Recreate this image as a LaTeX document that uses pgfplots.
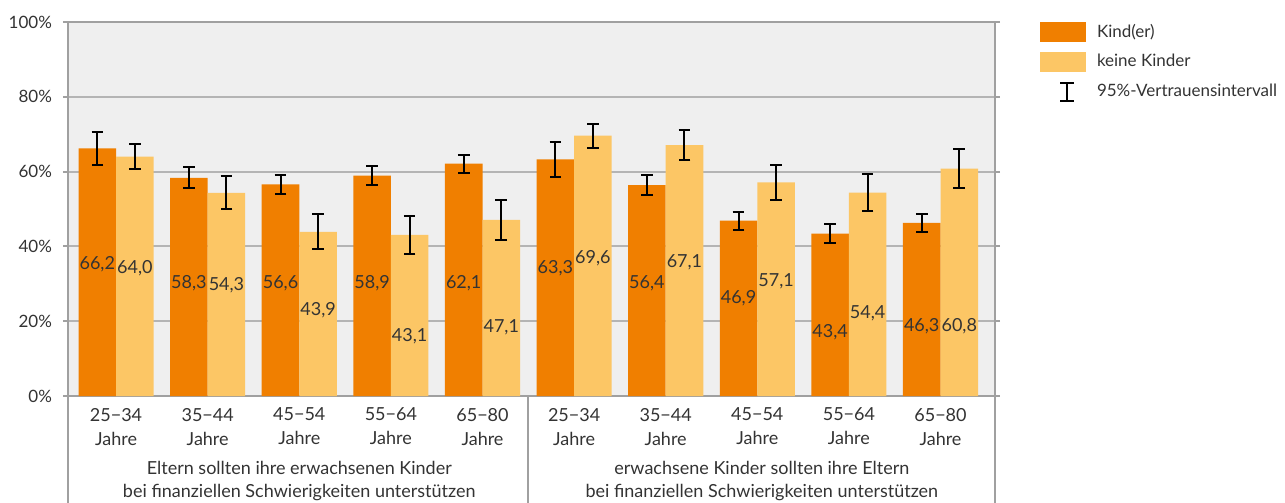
\documentclass[border=0pt]{standalone}
\usepackage{fontspec}
\setmainfont{Lato}
\usepackage{pgfplots}
\pgfplotsset{compat=1.18}
\usepackage{pgfplotstable}

\definecolor{kind}{HTML}{F07F00}
\definecolor{keine}{HTML}{FCC665}
\definecolor{bg}{HTML}{EFEFEF}
\definecolor{gridc}{HTML}{B4B4B4}
\definecolor{axc}{HTML}{A0A0A0}
\definecolor{txt}{HTML}{333333}

% x, value, 95% CI half width, label height
\pgfplotstableread{
x val err ly
0 66.2 4.5 35.3
1 58.3 2.8 30.2
2 56.6 2.5 30.2
3 58.9 2.6 30.2
4 62.1 2.4 30.2
5 63.3 4.7 34.2
6 56.4 2.7 30.2
7 46.9 2.4 26.2
8 43.4 2.6 17.1
9 46.3 2.4 18.7
}\kindtab

\pgfplotstableread{
x val err ly
0 64.0 3.4 34.2
1 54.3 4.4 29.7
2 43.9 4.7 23.0
3 43.1 5.0 16.0
4 47.1 5.3 18.4
5 69.6 3.2 36.9
6 67.1 4.1 35.8
7 57.1 4.6 30.8
8 54.4 5.0 22.2
9 60.8 5.2 18.7
}\keinetab

\begin{document}
\begin{tikzpicture}
\path[use as bounding box] (-34pt,-53.5pt) rectangle (608.5pt,198pt);
\begin{axis}[
    at={(0pt,0pt)}, anchor=south west,
    width=463.5pt, height=187pt, scale only axis,
    clip=false,
    xmin=-0.525, xmax=9.595, ymin=0, ymax=100,
    axis background/.style={fill=bg},
    axis line style={axc, line width=1pt},
    ytick={0,20,40,60,80,100},
    yticklabels={0\%,20\%,40\%,60\%,80\%,100\%},
    ymajorgrids, grid style={gridc, line width=1pt},
    tick align=outside, major tick length=2.5pt,
    ytick style={axc, line width=1pt},
    yticklabel style={font=\fontsize{8.5}{10}\selectfont, text=txt, xshift=-2pt},
    xtick={0,...,9},
    xticklabels={{25−34\\Jahre},{35−44\\Jahre},{45−54\\Jahre},{55−64\\Jahre},{65−80\\Jahre},
                 {25−34\\Jahre},{35−44\\Jahre},{45−54\\Jahre},{55−64\\Jahre},{65−80\\Jahre}},
    xtick style={draw=none},
    xticklabel style={align=center, font=\fontsize{9}{12}\selectfont, text=txt},
    /pgf/number format/assume math mode=true,
    legend style={at={(1,1)}, anchor=north west, xshift=22.5pt, draw=none, fill=none,
        inner sep=0pt, outer sep=0pt, row sep=5pt, column sep=5.5pt,
        font=\fontsize{8.5}{10}\selectfont, nodes={inner sep=0pt, text=txt}},
    legend cell align=left,
]
\addplot[ybar, bar width=0.41, bar shift=0pt, fill=kind, draw=none,
    area legend, legend image code/.code={\fill[kind] (0pt,-5pt) rectangle (23pt,5pt);},
    error bars/.cd, y dir=both, y explicit,
    error bar style={black, line width=1pt},
    error mark options={rotate=90, mark size=2.9pt, line width=1pt, black}]
    table[x expr=\thisrow{x}-0.205, y=val, y error=err] {\kindtab};
\addlegendentry{Kind(er)}
\addplot[ybar, bar width=0.41, bar shift=0pt, fill=keine, draw=none,
    area legend, legend image code/.code={\fill[keine] (0pt,-5pt) rectangle (23pt,5pt);},
    error bars/.cd, y dir=both, y explicit,
    error bar style={black, line width=1pt},
    error mark options={rotate=90, mark size=2.9pt, line width=1pt, black}]
    table[x expr=\thisrow{x}+0.205, y=val, y error=err] {\keinetab};
\addlegendentry{keine Kinder}
\addlegendimage{legend image code/.code={
    \draw[black, line width=0.9pt] (13.5pt,-4.5pt) -- (13.5pt,4.5pt)
        (10pt,-4.5pt) -- (17pt,-4.5pt) (10pt,4.5pt) -- (17pt,4.5pt);
    \path[draw=none, fill=none] (0pt,-5pt) rectangle (23pt,5pt);}}
\addlegendentry{95\%-Vertrauensintervall}

% value labels inside the bars
\addplot[draw=none, mark=none, forget plot, point meta=explicit,
    nodes near coords={\pgfmathprintnumber[fixed,fixed zerofill,precision=1,use comma]{\pgfplotspointmeta}},
    every node near coord/.append style={anchor=center, inner sep=0pt, font=\fontsize{9}{11}\selectfont, text=txt}]
    table[x expr=\thisrow{x}-0.205, y=ly, meta=val] {\kindtab};
\addplot[draw=none, mark=none, forget plot, point meta=explicit,
    nodes near coords={\pgfmathprintnumber[fixed,fixed zerofill,precision=1,use comma]{\pgfplotspointmeta}},
    every node near coord/.append style={anchor=center, inner sep=0pt, font=\fontsize{9}{11}\selectfont, text=txt}]
    table[x expr=\thisrow{x}+0.205, y=ly, meta=val] {\keinetab};

\draw[axc, line width=1pt] (rel axis cs:0,0) -- ++(0pt,-53.5pt);
\draw[axc, line width=1pt] (axis cs:4.5,0) -- ++(0pt,-53.5pt);
\draw[axc, line width=1pt] (rel axis cs:1,0) -- ++(0pt,-53.5pt);
\node[align=center, font=\fontsize{9}{11.5}\selectfont, text=txt] at ([yshift=-42.5pt]axis cs:2,0)
    {Eltern sollten ihre erwachsenen Kinder\\bei finanziellen Schwierigkeiten unterstützen};
\node[align=center, font=\fontsize{9}{11.5}\selectfont, text=txt] at ([yshift=-42.5pt]axis cs:7.05,0)
    {erwachsene Kinder sollten ihre Eltern\\bei finanziellen Schwierigkeiten unterstützen};
\end{axis}
\end{tikzpicture}
\end{document}
